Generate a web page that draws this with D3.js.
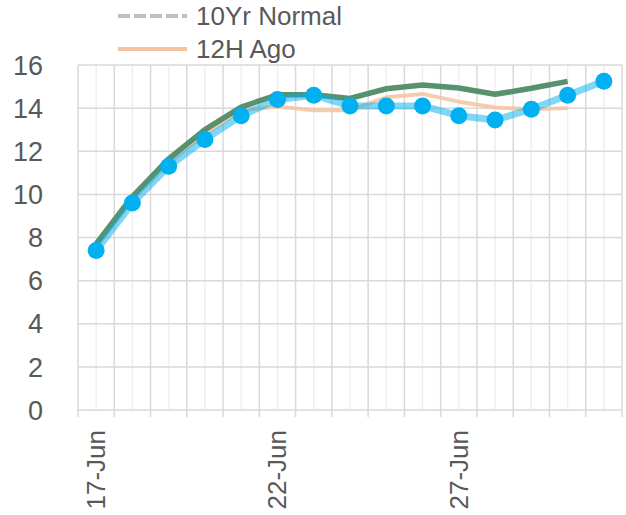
<!DOCTYPE html>
<html>
<head>
<meta charset="utf-8">
<script src="https://cdn.jsdelivr.net/npm/d3@7"></script>
<style>
  body { margin: 0; background: #fff; }
  text { font-family: "Liberation Sans", Arial, sans-serif; fill: #595959; }
</style>
</head>
<body>
<div class="canva"></div>
<script>
// days shown on the category axis
const days = ['17-Jun', '18-Jun', '19-Jun', '20-Jun', '21-Jun', '22-Jun', '23-Jun', '24-Jun',
              '25-Jun', '26-Jun', '27-Jun', '28-Jun', '29-Jun', '30-Jun', '1-Jul'];
const labelDays = ['17-Jun', '22-Jun', '27-Jun'];
const yTicks = [0, 2, 4, 6, 8, 10, 12, 14, 16];

// series values
const current = [7.4, 9.6, 11.3, 12.55, 13.65, 14.4, 14.6, 14.1, 14.1, 14.1, 13.65, 13.45, 13.95, 14.6, 15.25];
const previous = [7.7, 9.9, 11.65, 13.0, 14.05, 14.62, 14.62, 14.45, 14.9, 15.07, 14.93, 14.64, 14.92, 15.24];
const ago12h = [7.55, 9.75, 11.45, 12.8, 13.9, 14.07, 13.9, 13.9, 14.5, 14.66, 14.3, 14.03, 13.95, 14.0];

const width = 626, height = 515;
const margin = { top: 65, right: 4, bottom: 105, left: 78 };
const graphWidth = width - margin.left - margin.right;
const graphHeight = height - margin.top - margin.bottom;

const svg = d3.select('.canva').append('svg')
    .attr('width', width)
    .attr('height', height);

const graph = svg.append('g')
    .attr('transform', `translate(${margin.left}, ${margin.top})`);

const x = d3.scaleBand().domain(days).range([0, graphWidth]);
const y = d3.scaleLinear().domain([0, 16]).range([graphHeight, 0]);
const cx = d => x(d) + x.bandwidth() / 2;

// minor vertical grid at category centres
graph.append('g').selectAll('line').data(days).enter().append('line')
    .attr('x1', cx).attr('x2', cx)
    .attr('y1', 0).attr('y2', graphHeight)
    .attr('stroke', '#efefef').attr('stroke-width', 1.5);

// major vertical grid at category boundaries
const bounds = days.map(d => x(d)).concat([graphWidth]);
graph.append('g').selectAll('line').data(bounds).enter().append('line')
    .attr('x1', d => d).attr('x2', d => d)
    .attr('y1', 0).attr('y2', graphHeight + 7)
    .attr('stroke', '#d9d9d9').attr('stroke-width', 1.5);

// horizontal grid
graph.append('g').selectAll('line').data(yTicks).enter().append('line')
    .attr('x1', 0).attr('x2', graphWidth)
    .attr('y1', d => y(d)).attr('y2', d => y(d))
    .attr('stroke', '#d9d9d9').attr('stroke-width', 1.5);

// y labels
graph.append('g').selectAll('text').data(yTicks).enter().append('text')
    .attr('x', -35)
    .attr('y', d => y(d))
    .attr('dy', '0.36em')
    .attr('text-anchor', 'end')
    .style('font-size', '27px')
    .text(d => d);

// x labels, rotated
graph.append('g').selectAll('text').data(labelDays).enter().append('text')
    .attr('transform', d => `translate(${cx(d) + 9}, ${graphHeight + 20}) rotate(-90)`)
    .attr('text-anchor', 'end')
    .style('font-size', '26px')
    .text(d => d);

const line = d3.line()
    .x((d, i) => cx(days[i]))
    .y(d => y(d));

graph.append('path').datum(ago12h)
    .attr('d', line)
    .attr('fill', 'none')
    .attr('stroke', '#f4c3a0').attr('stroke-opacity', 0.85)
    .attr('stroke-width', 4).attr('stroke-linejoin', 'round');

graph.append('path').datum(previous)
    .attr('d', line)
    .attr('fill', 'none')
    .attr('stroke', '#4f8b65').attr('stroke-opacity', 0.95)
    .attr('stroke-width', 5.5).attr('stroke-linejoin', 'round');

graph.append('path').datum(current)
    .attr('d', line)
    .attr('fill', 'none')
    .attr('stroke', '#00b0f0').attr('stroke-opacity', 0.5)
    .attr('stroke-width', 7).attr('stroke-linejoin', 'round');

graph.append('g').selectAll('circle').data(current).enter().append('circle')
    .attr('cx', (d, i) => cx(days[i]))
    .attr('cy', d => y(d))
    .attr('r', 8.5)
    .attr('fill', '#00b0f0');

// legend (upper part is cut off in the original)
const legend = svg.append('g');
legend.append('line')
    .attr('x1', 118).attr('x2', 187).attr('y1', 16).attr('y2', 16)
    .attr('stroke', '#bfbfbf').attr('stroke-width', 4)
    .attr('stroke-dasharray', '12,4');
legend.append('text')
    .attr('x', 196).attr('y', 16).attr('dy', '0.36em')
    .style('font-size', '26px')
    .text('10Yr Normal');
legend.append('line')
    .attr('x1', 118).attr('x2', 187).attr('y1', 49).attr('y2', 49)
    .attr('stroke', '#f4c3a0').attr('stroke-width', 4);
legend.append('text')
    .attr('x', 196).attr('y', 49).attr('dy', '0.36em')
    .style('font-size', '26px')
    .text('12H Ago');
</script>
</body>
</html>
